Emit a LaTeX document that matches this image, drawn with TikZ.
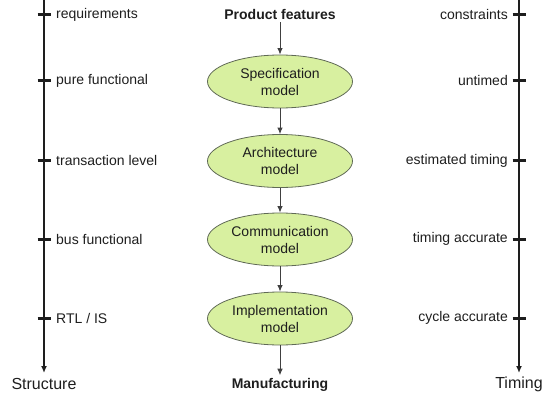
\documentclass[tikz,border=0pt]{standalone}
\usepackage{fontspec}
\setmainfont{Liberation Sans}
\usetikzlibrary{arrows.meta,shapes.geometric}

\definecolor{modelfill}{RGB}{216,240,160}
\definecolor{modeledge}{RGB}{95,105,85}
\definecolor{inktext}{RGB}{30,30,30}

\tikzset{
  axisline/.style={line width=2pt, -{Latex[length=7pt,width=6pt]}, inktext},
  tickmark/.style={line width=3pt, inktext},
  lefttag/.style={anchor=west, font=\fontsize{14}{17}\selectfont, text=inktext, inner sep=0pt},
  righttag/.style={anchor=east, font=\fontsize{14}{17}\selectfont, text=inktext, inner sep=0pt},
  axistitle/.style={font=\fontsize{16}{19}\selectfont, text=inktext},
  endlabel/.style={font=\bfseries\fontsize{14}{17}\selectfont, text=inktext, inner sep=3pt},
  model/.style={ellipse, draw=modeledge, line width=0.8pt, fill=modelfill,
    minimum width=145pt, minimum height=53pt, inner sep=0pt, align=center,
    font=\fontsize{14}{17}\selectfont, text=inktext},
  flow/.style={line width=0.9pt, draw=inktext!85, -{Latex[length=6.5pt,width=5.5pt]}}
}

\begin{document}
\begin{tikzpicture}[x=1pt,y=-1pt]
\useasboundingbox (0,0) rectangle (543,396);

% Structure axis (left)
\coordinate (ltop) at (44,0);
\coordinate (lend) at (44,373);
\draw[axisline] (ltop) -- (lend);
\node[axistitle] (structure) at (44,384) {Structure};

% Timing axis (right)
\coordinate (rtop) at (519,0);
\coordinate (rend) at (519,373);
\draw[axisline] (rtop) -- (rend);
\node[axistitle] (timing) at (519,384) {Timing};

% Abstraction levels: tick marks with labels on both axes
\foreach \name/\y/\ltext/\rtext in {
    a/14.5/requirements/constraints,
    b/80.5/pure functional/untimed,
    c/160.5/transaction level/estimated timing,
    d/239/bus functional/timing accurate,
    e/318/{RTL / IS}/cycle accurate}{
  \coordinate (lt\name) at (44,\y);
  \coordinate (rt\name) at (519,\y);
  \draw[tickmark] ([xshift=-6.5pt]lt\name) -- ([xshift=6.5pt]lt\name);
  \draw[tickmark] ([xshift=-6.5pt]rt\name) -- ([xshift=6.5pt]rt\name);
  \node[lefttag] (ll\name) at (56,\y) {\ltext};
  \node[righttag] (rl\name) at (508,\y) {\rtext};
}

% Design flow in the middle
\node[endlabel] (features) at (280,14) {Product features};
\node[model] (spec) at (280,81.5) {Specification\\model};
\node[model] (arch) at (280,161) {Architecture\\model};
\node[model] (comm) at (280,239.5) {Communication\\model};
\node[model] (impl) at (280,318.5) {Implementation\\model};
\node[endlabel] (manuf) at (280,385) {Manufacturing};

\draw[flow] (features) -- (spec);
\draw[flow] (spec) -- (arch);
\draw[flow] (arch) -- (comm);
\draw[flow] (comm) -- (impl);
\draw[flow] (impl) -- (manuf);
\end{tikzpicture}
\end{document}
